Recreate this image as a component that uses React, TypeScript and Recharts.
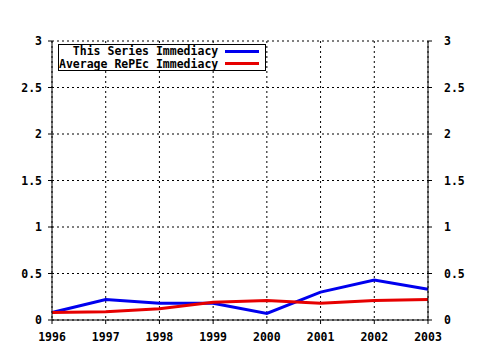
import React from 'react';
import { LineChart, Line, XAxis, YAxis, CartesianGrid } from 'recharts';

const YEARS = [1996, 1997, 1998, 1999, 2000, 2001, 2002, 2003];
const THIS_SERIES = [0.08, 0.22, 0.18, 0.18, 0.07, 0.3, 0.43, 0.33];
const AVERAGE_REPEC = [0.08, 0.09, 0.12, 0.19, 0.21, 0.18, 0.21, 0.22];
const Y_TICKS = [0, 0.5, 1, 1.5, 2, 2.5, 3];
const MINOR_TICKS = [
  1996, 1996.25, 1996.5, 1996.75, 1997, 1997.25, 1997.5, 1997.75, 1998, 1998.25, 1998.5, 1998.75,
  1999, 1999.25, 1999.5, 1999.75, 2000, 2000.25, 2000.5, 2000.75, 2001, 2001.25, 2001.5, 2001.75,
  2002, 2002.25, 2002.5, 2002.75, 2003,
];

const COLORS = {
  BLUE: '#0000ee',
  RED: '#e60000',
  INK: '#000000',
};

const FONT = '"DejaVu Sans Mono", monospace';

const data = YEARS.map((year, i) => ({
  year,
  series: THIS_SERIES[i],
  average: AVERAGE_REPEC[i],
}));

const fmt = (v: number) => String(v);

const tickStyle = { fontSize: 11.5, fill: COLORS.INK, fontFamily: FONT, fontWeight: 'bold' as const };

const LEGEND_ITEMS = [
  { name: 'This Series Immediacy', color: COLORS.BLUE },
  { name: 'Average RePEc Immediacy', color: COLORS.RED },
];

// legend drawn as a plain box so it doesn't eat into the plot area
const LegendBox = () => (
  <div
    style={{
      position: 'absolute',
      left: 58,
      top: 44,
      border: '1px solid #000',
      background: '#fff',
      fontFamily: FONT,
      fontWeight: 'bold',
      fontSize: 11.5,
      lineHeight: '12.5px',
      padding: '0px 6px 0px 0px',
      color: '#000',
    }}
  >
    {LEGEND_ITEMS.map((e) => (
      <div key={e.name} style={{ display: 'flex', alignItems: 'center', justifyContent: 'flex-end' }}>
        <span style={{ whiteSpace: 'pre' }}>{e.name}</span>
        <span style={{ display: 'inline-block', width: 34, height: 3, background: e.color, marginLeft: 7 }} />
      </div>
    ))}
  </div>
);

const Empty = () => <g />;

export default function App() {
  return (
    <div style={{ position: 'absolute', left: 0, top: 0, width: 480, height: 350, background: '#fff' }}>
      <LineChart width={480} height={350} data={data} margin={{ top: 41, right: 0, bottom: 0, left: 0 }}>
        <CartesianGrid strokeDasharray="2 3" stroke={COLORS.INK} />
        <XAxis
          xAxisId="minor"
          dataKey="year"
          type="number"
          domain={[1996, 2003]}
          ticks={MINOR_TICKS}
          interval={0}
          height={0}
          axisLine={false}
          tickSize={2}
          tickLine={{ stroke: COLORS.INK }}
          tick={<Empty />}
        />
        <XAxis
          dataKey="year"
          type="number"
          domain={[1996, 2003]}
          ticks={YEARS}
          interval={0}
          height={30}
          tickSize={4}
          tickMargin={9}
          axisLine={{ stroke: COLORS.INK }}
          tickLine={{ stroke: COLORS.INK }}
          tick={tickStyle}
        />
        <XAxis
          xAxisId="top"
          orientation="top"
          dataKey="year"
          type="number"
          domain={[1996, 2003]}
          ticks={MINOR_TICKS}
          interval={0}
          mirror
          height={0}
          tickSize={2}
          axisLine={{ stroke: COLORS.INK }}
          tickLine={{ stroke: COLORS.INK }}
          tick={<Empty />}
        />
        <YAxis
          domain={[0, 3]}
          ticks={Y_TICKS}
          interval={0}
          width={52}
          tickSize={4}
          tickMargin={6}
          tickFormatter={fmt}
          axisLine={{ stroke: COLORS.INK }}
          tickLine={{ stroke: COLORS.INK }}
          tick={tickStyle}
        />
        <YAxis
          yAxisId="right"
          orientation="right"
          domain={[0, 3]}
          ticks={Y_TICKS}
          interval={0}
          width={52}
          tickSize={4}
          tickMargin={12}
          tickFormatter={fmt}
          axisLine={{ stroke: COLORS.INK }}
          tickLine={{ stroke: COLORS.INK }}
          tick={tickStyle}
        />
        <Line
          dataKey="series"
          yAxisId="right"
          stroke="none"
          dot={false}
          legendType="none"
          isAnimationActive={false}
        />
        <Line
          dataKey="series"
          name="This Series Immediacy"
          stroke={COLORS.BLUE}
          strokeWidth={3}
          dot={false}
          isAnimationActive={false}
        />
        <Line
          dataKey="average"
          name="Average RePEc Immediacy"
          stroke={COLORS.RED}
          strokeWidth={3}
          dot={false}
          isAnimationActive={false}
        />
      </LineChart>
      <LegendBox />
    </div>
  );
}
